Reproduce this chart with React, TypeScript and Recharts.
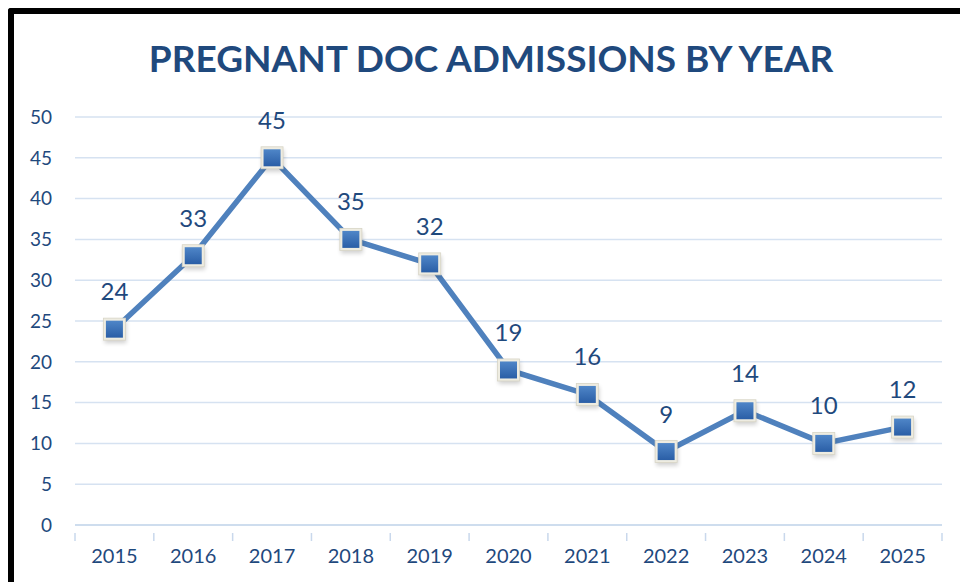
import { LineChart, Line, XAxis, YAxis, CartesianGrid, LabelList } from "recharts";

const years = ["2015", "2016", "2017", "2018", "2019", "2020", "2021", "2022", "2023", "2024", "2025"];
const admissions = [24, 33, 45, 35, 32, 19, 16, 9, 14, 10, 12];
const yTicks = [0, 5, 10, 15, 20, 25, 30, 35, 40, 45, 50];

const data = years.map((year, i) => ({ year, admissions: admissions[i] }));

const W = 960;
const H = 582;
const PLOT_LEFT = 75;
const PLOT_RIGHT = 942;
const BAND = (PLOT_RIGHT - PLOT_LEFT) / years.length;
const TEXT = "#1f497d";
const FONT = "Lato, 'Open Sans', sans-serif";

function XTick(props: any) {
  const { x, y, payload, index } = props;
  const isLast = index === years.length - 1;
  return (
    <g>
      <line x1={x - BAND / 2} x2={x - BAND / 2} y1={y} y2={y + 8} stroke="#c9d8ec" strokeWidth={1.5} />
      {isLast && (
        <line x1={x + BAND / 2} x2={x + BAND / 2} y1={y} y2={y + 8} stroke="#c9d8ec" strokeWidth={1.5} />
      )}
      <text x={x} y={y + 30} textAnchor="middle" fill={TEXT} fontSize={20} fontFamily={FONT}>
        {payload.value}
      </text>
    </g>
  );
}

function SquareDot(props: any) {
  const { cx, cy } = props;
  if (cx == null || cy == null) return null;
  return (
    <g>
      <rect x={cx - 10} y={cy - 8} width={22} height={22} fill="#000" opacity={0.18} filter="url(#dotShadow)" />
      <rect x={cx - 11} y={cy - 11} width={22} height={22} fill="#eeece1" stroke="#d8d5c6" strokeWidth={0.8} />
      <rect x={cx - 8.5} y={cy - 8.5} width={17} height={17} fill="url(#dotFill)" />
    </g>
  );
}

function ValueLabel(props: any) {
  const { x, y, value } = props;
  return (
    <text x={x} y={y - 29} textAnchor="middle" fill={TEXT} fontSize={24} fontFamily={FONT}>
      {value}
    </text>
  );
}

export default function App() {
  return (
    <div style={{ position: "fixed", left: 0, top: 0, width: W, height: H, background: "#fff", overflow: "hidden" }}>
      <div
        style={{
          position: "absolute",
          left: 8,
          top: 8,
          right: 0,
          bottom: 0,
          borderTop: "6px solid #000",
          borderLeft: "6px solid #000",
          borderTopLeftRadius: 3,
        }}
      />
      <div
        style={{
          position: "absolute",
          left: 0,
          width: W,
          top: 35,
          textAlign: "center",
          fontFamily: FONT,
          fontWeight: 700,
          fontSize: 37,
          color: TEXT,
          paddingLeft: 22,
          boxSizing: "border-box",
        }}
      >
        PREGNANT DOC ADMISSIONS BY YEAR
      </div>
      <div style={{ position: "absolute", left: 0, top: 0 }}>
        <LineChart width={W} height={H} data={data} margin={{ top: 117, right: W - PLOT_RIGHT, bottom: 17, left: 25 }}>
          <defs>
            <linearGradient id="dotFill" x1="0" y1="0" x2="0" y2="1">
              <stop offset="0%" stopColor="#4f86c8" />
              <stop offset="100%" stopColor="#2a5ea6" />
            </linearGradient>
            <filter id="dotShadow" x="-50%" y="-50%" width="200%" height="200%">
              <feGaussianBlur stdDeviation="2" />
            </filter>
          </defs>
          <CartesianGrid vertical={false} stroke="#d6e2f1" strokeWidth={1.5} />
          <XAxis
            dataKey="year"
            height={40}
            padding={{ left: BAND / 2, right: BAND / 2 }}
            axisLine={{ stroke: "#c9d8ec", strokeWidth: 1.5 }}
            tickLine={false}
            tick={<XTick />}
            interval={0}
          />
          <YAxis
            width={50}
            domain={[0, 50]}
            ticks={yTicks}
            axisLine={false}
            tickLine={false}
            tickSize={0}
            tickMargin={23}
            tick={{ fill: TEXT, fontSize: 19, fontFamily: FONT }}
          />
          <Line
            type="linear"
            dataKey="admissions"
            stroke="#4f81bd"
            strokeWidth={5.5}
            dot={<SquareDot />}
            activeDot={false}
            isAnimationActive={false}
          >
            <LabelList dataKey="admissions" content={<ValueLabel />} />
          </Line>
        </LineChart>
      </div>
    </div>
  );
}
